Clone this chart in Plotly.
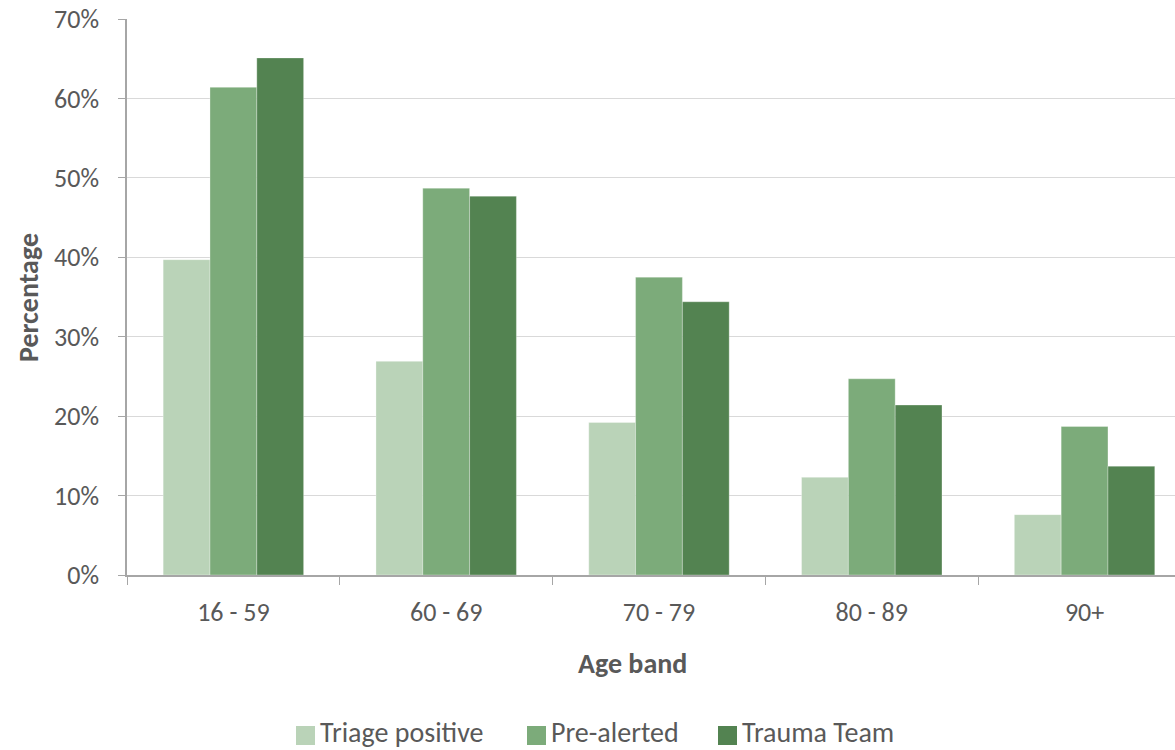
import plotly.graph_objects as go

# Share of patients by age band (%)
age_bands = ["16 - 59", "60 - 69", "70 - 79", "80 - 89", "90+"]
triage_positive = [39.7, 26.9, 19.2, 12.3, 7.6]
pre_alerted = [61.4, 48.7, 37.5, 24.7, 18.7]
trauma_team = [65.1, 47.7, 34.4, 21.4, 13.7]

series_names = ["Triage positive", "Pre-alerted", "Trauma Team"]
series_colors = ["#BAD3B8", "#7CAB7A", "#538351"]
y_ticks = [0, 10, 20, 30, 40, 50, 60, 70]

FONT = "Carlito, Lato, 'Open Sans', sans-serif"
TEXT = "#595959"

W, H = 1175, 750
M_L, M_R, M_T, M_B = 127, 0, 19, 175
PLOT_W = W - M_L - M_R
PLOT_H = H - M_T - M_B


def px_x(x):
    """Figure pixel column -> paper x."""
    return (x - M_L) / PLOT_W


def px_y(y):
    """Figure pixel row -> paper y."""
    return (H - M_B - y) / PLOT_H


fig = go.Figure()
for name, vals, col in zip(series_names, [triage_positive, pre_alerted, trauma_team], series_colors):
    fig.add_trace(go.Bar(
        x=age_bands, y=vals, name=name, showlegend=False,
        marker=dict(color=col, line=dict(color="rgba(255,255,255,0.5)", width=0.6)),
    ))

# Legend: square swatch followed by the series name
shapes, annotations = [], []
legend_x = [296, 527, 718]
for name, col, lx in zip(series_names, series_colors, legend_x):
    shapes.append(dict(type="rect", xref="paper", yref="paper",
                       x0=px_x(lx), x1=px_x(lx + 19), y0=px_y(745), y1=px_y(726),
                       fillcolor=col, line=dict(width=0)))
    annotations.append(dict(text=name, xref="paper", yref="paper",
                            x=px_x(lx + 22), y=px_y(732), xanchor="left", yanchor="middle",
                            showarrow=False, font=dict(size=28, color=TEXT)))

annotations += [
    dict(text="<b>Age band</b>", xref="paper", yref="paper", x=px_x(632), y=px_y(663),
         xanchor="center", yanchor="middle", showarrow=False,
         font=dict(size=28, color=TEXT)),
    dict(text="<b>Percentage</b>", xref="paper", yref="paper", x=px_x(28), y=px_y(298),
         xanchor="center", yanchor="middle", showarrow=False, textangle=-90,
         font=dict(size=28, color=TEXT)),
]

fig.update_layout(
    width=W, height=H,
    margin=dict(l=M_L, r=M_R, t=M_T, b=M_B),
    paper_bgcolor="white", plot_bgcolor="white",
    barmode="group", bargap=0.34, bargroupgap=0,
    font=dict(family=FONT, color=TEXT, size=26),
    showlegend=False,
    xaxis=dict(
        range=[-0.5, 4.425],
        showline=True, linecolor="#A6A6A6", linewidth=1.5,
        ticks="outside", tickson="boundaries", ticklen=8, tickcolor="#A6A6A6",
        tickfont=dict(size=26, color=TEXT), ticklabelstandoff=13,
        showgrid=False,
    ),
    yaxis=dict(
        range=[0, 70], tickvals=y_ticks, ticktext=[f"{v}%" for v in y_ticks],
        showline=True, linecolor="#A6A6A6", linewidth=1.5,
        ticks="outside", ticklen=7, tickcolor="#A6A6A6",
        tickfont=dict(size=26, color=TEXT), ticklabelstandoff=14,
        showgrid=True, gridcolor="#D9D9D9", gridwidth=1.3,
        zeroline=False,
    ),
    shapes=shapes,
    annotations=annotations,
)

fig.write_html("out.html")
